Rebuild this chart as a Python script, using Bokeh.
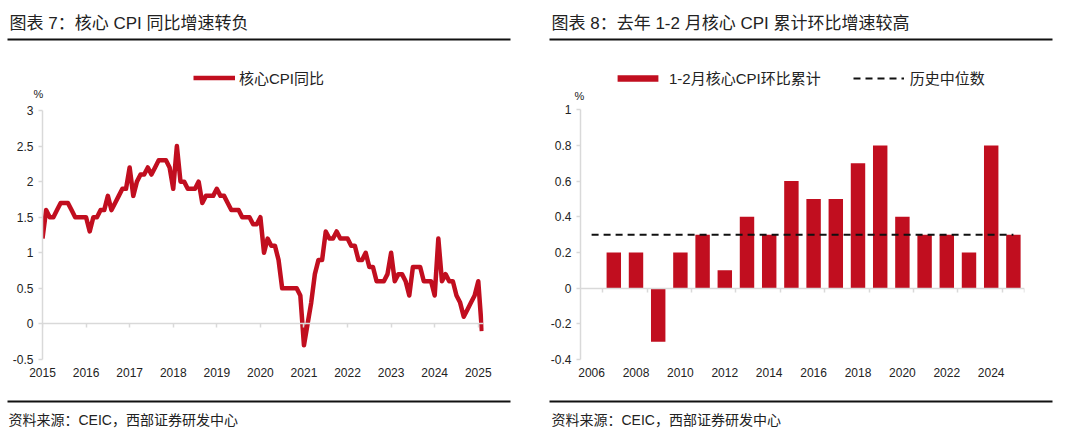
from bokeh.plotting import figure
from bokeh.models import (Range1d, LinearAxis, FixedTicker, CustomJSTickFormatter,
                          Legend, LegendItem)
from bokeh.layouts import column, row
from bokeh.embed import file_html
from bokeh.resources import INLINE
from bokeh.core.properties import value

NAN = float("nan")

# ---------------- data ----------------
title_left = "图表 7：核心 CPI 同比增速转负"
title_right = "图表 8：去年 1-2 月核心 CPI 累计环比增速较高"
source_text = "资料来源：CEIC，西部证券研发中心"
unit_text = "%"

cpi_series_name = "核心CPI同比"
cpi_start_year = 2015
# monthly core CPI YoY, Jan 2015 .. Feb 2025
cpi_yoy = [
    1.2, 1.6, 1.5, 1.5, 1.6, 1.7, 1.7, 1.7, 1.6, 1.5, 1.5, 1.5,   # 2015
    1.5, 1.3, 1.5, 1.5, 1.6, 1.6, 1.8, 1.6, 1.7, 1.8, 1.9, 1.9,   # 2016
    2.2, 1.8, 2.0, 2.1, 2.1, 2.2, 2.1, 2.2, 2.3, 2.3, 2.3, 2.2,   # 2017
    1.9, 2.5, 2.0, 2.0, 1.9, 1.9, 1.9, 2.0, 1.7, 1.8, 1.8, 1.8,   # 2018
    1.9, 1.8, 1.8, 1.7, 1.6, 1.6, 1.6, 1.5, 1.5, 1.5, 1.4, 1.4,   # 2019
    1.5, 1.0, 1.2, 1.1, 1.1, 0.9, 0.5, 0.5, 0.5, 0.5, 0.5, 0.4,   # 2020
    -0.3, 0.0, 0.3, 0.7, 0.9, 0.9, 1.3, 1.2, 1.2, 1.3, 1.2, 1.2,  # 2021
    1.2, 1.1, 1.1, 0.9, 0.9, 1.0, 0.8, 0.8, 0.6, 0.6, 0.6, 0.7,   # 2022
    1.0, 0.6, 0.7, 0.7, 0.6, 0.4, 0.8, 0.8, 0.8, 0.6, 0.6, 0.6,   # 2023
    0.4, 1.2, 0.6, 0.7, 0.6, 0.6, 0.4, 0.3, 0.1, 0.2, 0.3, 0.4,   # 2024
    0.6, -0.1,                                                    # 2025
]
left_year_ticks = [2015, 2016, 2017, 2018, 2019, 2020, 2021, 2022, 2023, 2024, 2025]
left_y_ticks = [-0.5, 0, 0.5, 1, 1.5, 2, 2.5, 3]

bar_series_name = "1-2月核心CPI环比累计"
median_series_name = "历史中位数"
bar_years = [2007, 2008, 2009, 2010, 2011, 2012, 2013, 2014, 2015, 2016,
             2017, 2018, 2019, 2020, 2021, 2022, 2023, 2024, 2025]
bar_values = [0.2, 0.2, -0.3, 0.2, 0.3, 0.1, 0.4, 0.3, 0.6, 0.5,
              0.5, 0.7, 0.8, 0.4, 0.3, 0.3, 0.2, 0.8, 0.3]
median_years = [2006, 2007, 2008, 2009, 2010, 2011, 2012, 2013, 2014, 2015,
                2016, 2017, 2018, 2019, 2020, 2021, 2022, 2023, 2024, 2025]
median_values = [0.3, 0.3, 0.3, 0.3, 0.3, 0.3, 0.3, 0.3, 0.3, 0.3,
                 0.3, 0.3, 0.3, 0.3, 0.3, 0.3, 0.3, 0.3, 0.3, 0.3]
right_year_labels = [2006, 2008, 2010, 2012, 2014, 2016, 2018, 2020, 2022, 2024]
right_y_ticks = [-0.4, -0.2, 0, 0.2, 0.4, 0.6, 0.8, 1]

# ---------------- styles ----------------
RED = "#C10E1F"
TXT = "#222222"
AXIS = "#D9D9D9"
DASH = "#111111"
FONT = "Liberation Sans, Noto Sans CJK SC"

cpi_x = [cpi_start_year + i / 12 for i in range(len(cpi_yoy))]
num_fmt = CustomJSTickFormatter(code="return String(Math.round(tick*10)/10);")
year_fmt = CustomJSTickFormatter(code="return tick.toFixed(0);")


def blank_fig(w, h, xr, yr):
    f = figure(width=w, height=h, x_range=xr, y_range=yr, toolbar_location=None,
               output_backend="svg", min_border=0, x_axis_type=None, y_axis_type=None,
               outline_line_color=None)
    f.min_border_left = f.min_border_right = f.min_border_top = f.min_border_bottom = 0
    f.grid.visible = False
    return f


def style_chart(p, yticks, ybounds, label_ticks, zero_ticks):
    yax = LinearAxis(ticker=FixedTicker(ticks=yticks), formatter=num_fmt, bounds=ybounds,
                     axis_line_color=AXIS, axis_line_width=1.5,
                     major_tick_out=4, major_tick_in=0, major_tick_line_color=AXIS,
                     major_tick_line_width=1.5, minor_tick_line_color=None,
                     major_label_text_font=FONT, major_label_text_font_size="12px",
                     major_label_text_color=TXT, major_label_standoff=5)
    p.add_layout(yax, "left")
    xlab = LinearAxis(ticker=FixedTicker(ticks=label_ticks), formatter=year_fmt,
                      axis_line_color=None, major_tick_line_color=None,
                      minor_tick_line_color=None, major_tick_out=0, major_tick_in=0,
                      major_label_text_font=FONT, major_label_text_font_size="12px",
                      major_label_text_color=TXT, major_label_standoff=8)
    p.add_layout(xlab, "below")
    zax = LinearAxis(fixed_location=0, ticker=FixedTicker(ticks=zero_ticks),
                     formatter=CustomJSTickFormatter(code="return '';"),
                     axis_line_color=AXIS, axis_line_width=1.5,
                     major_tick_out=4, major_tick_in=0, major_tick_line_color=AXIS,
                     major_tick_line_width=1.5, minor_tick_line_color=None,
                     major_label_standoff=0, major_label_text_font_size="1px")
    p.add_layout(zax, "below")


def legend(items, loc, gw, gh, spacing, standoff):
    return Legend(items=items, location=loc, orientation="horizontal",
                  border_line_color=None, background_fill_alpha=0, margin=0, padding=0,
                  spacing=spacing, glyph_width=gw, glyph_height=gh, label_height=15,
                  label_standoff=standoff, label_text_font=FONT,
                  label_text_font_size="15px", label_text_color=TXT)


# ---------------- header ----------------
hdr = blank_fig(1080, 45, Range1d(0, 1080), Range1d(45, 0))
hdr.text(x=[9, 551], y=[23, 23], text=[title_left, title_right],
         text_font=value(FONT), text_font_size="17px", text_baseline="middle",
         text_color=TXT)
hdr.segment(x0=[7, 549], y0=[39, 39], x1=[510, 1052], y1=[39, 39],
            line_width=2, line_color="#111111")

# ---------------- legend / unit strips (legend keys use NaN placeholder glyphs) ----------------
sl = blank_fig(540, 57, Range1d(0, 540), Range1d(102, 45))
key_l = sl.line(x=[NAN], y=[NAN], line_color=RED, line_width=4.5)
sl.add_layout(legend([LegendItem(label=cpi_series_name, renderers=[key_l])],
                     (193, 14), 42, 15, 0, 4))
sl.text(x=[38], y=[93.5], text=[unit_text], text_font=value(FONT), text_font_size="11px",
        text_align="center", text_baseline="middle", text_color=TXT)

sr = blank_fig(540, 57, Range1d(540, 1080), Range1d(102, 45))
key_b = sr.vbar(x=[NAN], top=[NAN], width=1, fill_color=RED, line_color=None)
key_m = sr.line(x=[NAN], y=[NAN], line_color=DASH, line_width=2, line_dash="7 5")
sr.add_layout(legend([LegendItem(label=bar_series_name, renderers=[key_b]),
                      LegendItem(label=median_series_name, renderers=[key_m])],
                     (72, 14), 51, 8, 32, 6))
sr.text(x=[579], y=[95], text=[unit_text], text_font=value(FONT), text_font_size="11px",
        text_align="center", text_baseline="middle", text_color=TXT)

# ---------------- left chart ----------------
pl = figure(width=540, height=289, x_range=Range1d(2015, 2025.12),
            y_range=Range1d(-0.5, 3.0703), toolbar_location=None, output_backend="svg",
            x_axis_type=None, y_axis_type=None, outline_line_color=None,
            min_border_left=42, min_border_right=57, min_border_top=3, min_border_bottom=32)
pl.grid.visible = False
style_chart(pl, left_y_ticks, (-0.5, 3), left_year_ticks, left_year_ticks)
pl.line(cpi_x, cpi_yoy, line_color=RED, line_width=4.5, line_join="round")

# ---------------- right chart ----------------
pr = figure(width=540, height=289, x_range=Range1d(2005.5, 2025.5),
            y_range=Range1d(-0.4, 1.0239), toolbar_location=None, output_backend="svg",
            x_axis_type=None, y_axis_type=None, outline_line_color=None,
            min_border_left=40, min_border_right=56, min_border_top=3, min_border_bottom=30)
pr.grid.visible = False
style_chart(pr, right_y_ticks, (-0.4, 1), right_year_labels,
            [y + 0.5 for y in right_year_labels] + [2025.5])
pr.vbar(x=bar_years, top=bar_values, bottom=0, width=0.65, fill_color=RED, line_color=None)
pr.line(median_years, median_values, line_color=DASH, line_width=2, line_dash="7 5")

# ---------------- footer ----------------
ftr = blank_fig(1080, 42, Range1d(0, 1080), Range1d(433, 391))
ftr.segment(x0=[7, 549], y0=[401, 401], x1=[510, 1052], y1=[401, 401],
            line_width=2, line_color="#111111")
ftr.text(x=[8, 551], y=[419, 419], text=[source_text, source_text],
         text_font=value(FONT), text_font_size="14px", text_baseline="middle",
         text_color=TXT)

layout = column(hdr, row(sl, sr), row(pl, pr), ftr)
open("out.html", "w").write(file_html(layout, INLINE))
